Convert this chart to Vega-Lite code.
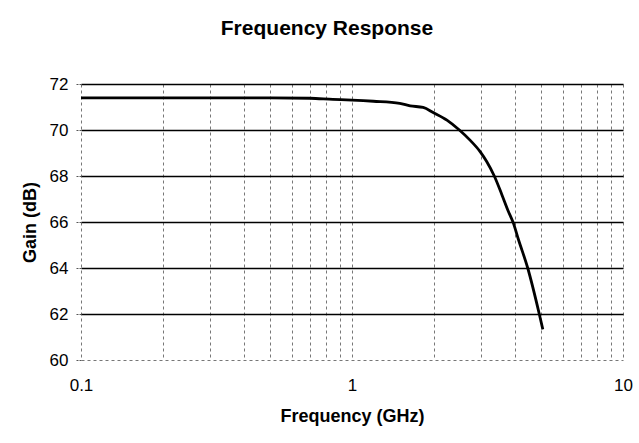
{
  "$schema": "https://vega.github.io/schema/vega-lite/v6.json",
  "autosize": "none",
  "width": 542,
  "height": 276,
  "padding": {"left": 81, "top": 84, "right": 16, "bottom": 83},
  "background": "white",
  "config": {
    "view": {"stroke": null},
    "font": "Liberation Sans"
  },
  "title": {
    "text": "Frequency Response",
    "font": "Liberation Sans",
    "fontSize": 21,
    "fontWeight": "bold",
    "color": "black",
    "anchor": "middle",
    "dx": -25,
    "offset": 36
  },
  "data": {
    "values": [
      {"freq": 0.1, "gain": 71.4},
      {"freq": 0.2, "gain": 71.4},
      {"freq": 0.3, "gain": 71.4},
      {"freq": 0.5, "gain": 71.4},
      {"freq": 0.7, "gain": 71.38},
      {"freq": 0.85, "gain": 71.33},
      {"freq": 1.0, "gain": 71.3},
      {"freq": 1.2, "gain": 71.25},
      {"freq": 1.5, "gain": 71.16},
      {"freq": 1.64, "gain": 71.05},
      {"freq": 1.83, "gain": 70.98},
      {"freq": 2.0, "gain": 70.75},
      {"freq": 2.24, "gain": 70.43},
      {"freq": 2.49, "gain": 70.0},
      {"freq": 2.72, "gain": 69.57},
      {"freq": 2.97, "gain": 69.06},
      {"freq": 3.14, "gain": 68.63},
      {"freq": 3.35, "gain": 68.0},
      {"freq": 3.57, "gain": 67.2},
      {"freq": 3.77, "gain": 66.48},
      {"freq": 3.94, "gain": 65.95},
      {"freq": 4.11, "gain": 65.25},
      {"freq": 4.45, "gain": 64.0},
      {"freq": 4.91, "gain": 62.0},
      {"freq": 5.06, "gain": 61.33}
    ]
  },
  "mark": {"type": "line", "color": "black", "strokeWidth": 2.8, "interpolate": "monotone"},
  "encoding": {
    "x": {
      "field": "freq",
      "type": "quantitative",
      "scale": {"type": "log", "domain": [0.1, 10], "nice": false},
      "axis": {
        "title": "Frequency (GHz)",
        "titleFont": "Liberation Sans",
        "titleFontSize": 18,
        "titleFontWeight": "bold",
        "titleColor": "black",
        "titlePadding": 14,
        "values": [0.1, 0.2, 0.3, 0.4, 0.5, 0.6, 0.7, 0.8, 0.9, 1, 2, 3, 4, 5, 6, 7, 8, 9, 10],
        "format": "~g",
        "labelExpr": "(datum.value == 0.1 || datum.value == 1 || datum.value == 10) ? datum.label : ''",
        "labelFont": "Liberation Sans",
        "labelFontSize": 17,
        "labelColor": "black",
        "labelPadding": 17,
        "labelFlush": false,
        "labelOverlap": false,
        "domain": false,
        "ticks": false,
        "grid": true,
        "gridColor": "#777777",
        "gridDash": [3, 3],
        "gridWidth": 1
      }
    },
    "y": {
      "field": "gain",
      "type": "quantitative",
      "scale": {"domain": [60, 72], "nice": false, "zero": false},
      "axis": {
        "title": "Gain (dB)",
        "titleFont": "Liberation Sans",
        "titleFontSize": 18,
        "titleFontWeight": "bold",
        "titleColor": "black",
        "titlePadding": 10,
        "values": [60, 62, 64, 66, 68, 70, 72],
        "labelFont": "Liberation Sans",
        "labelFontSize": 17,
        "labelColor": "black",
        "labelPadding": 7,
        "domain": false,
        "ticks": true,
        "tickSize": 6,
        "tickColor": "#555555",
        "tickDash": [2, 1],
        "grid": true,
        "gridColor": {"expr": "datum.value == 60 ? '#777777' : 'black'"},
        "gridDash": {"expr": "datum.value == 60 ? [3, 3] : []"},
        "gridWidth": {"expr": "datum.value == 60 ? 1 : 1.5"}
      }
    }
  }
}
